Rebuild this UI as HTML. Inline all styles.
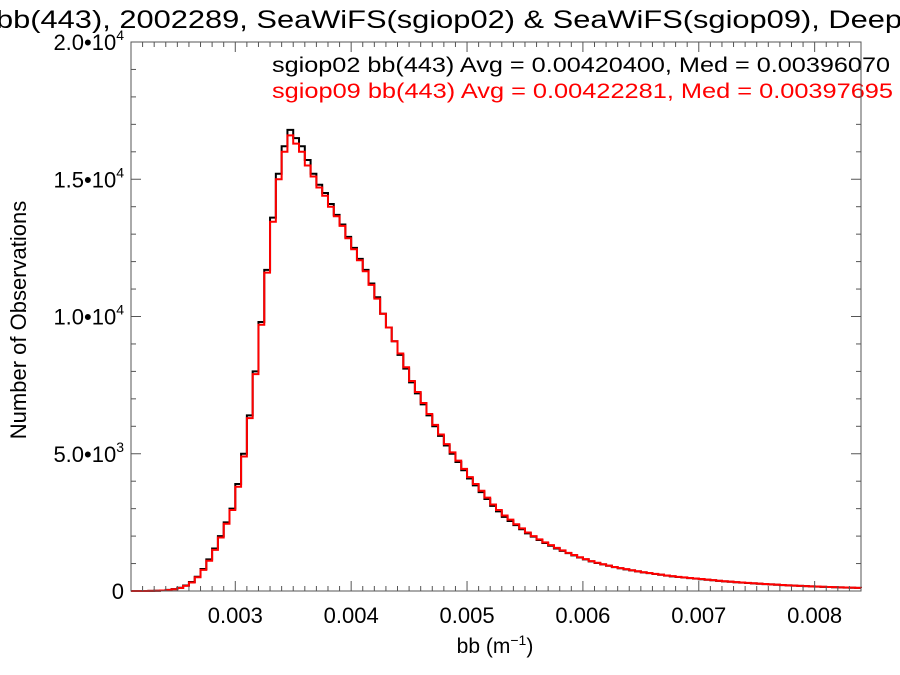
<!DOCTYPE html>
<html><head><meta charset="utf-8"><style>
html,body{margin:0;padding:0;background:#fff}
svg{display:block;font-family:"Liberation Sans",sans-serif}
</style></head><body>
<svg id="chart" width="900" height="675" viewBox="0 0 900 675" xmlns="http://www.w3.org/2000/svg">
<text x="-4" y="28" font-size="25" textLength="906" lengthAdjust="spacingAndGlyphs">bb(443), 2002289, SeaWiFS(sgiop02) &amp; SeaWiFS(sgiop09), Deep</text>
<text x="272" y="72" font-size="21" textLength="618" lengthAdjust="spacingAndGlyphs" fill="#000">sgiop02 bb(443) Avg = 0.00420400, Med = 0.00396070</text>
<text x="272" y="98" font-size="21" textLength="621" lengthAdjust="spacingAndGlyphs" fill="#ff0000">sgiop09 bb(443) Avg = 0.00422281, Med = 0.00397695</text>
<text transform="translate(26,320) rotate(-90)" font-size="22" text-anchor="middle">Number of Observations</text>
<text x="495" y="653" font-size="21" text-anchor="middle">bb (m<tspan font-size="14" dy="-8">−1</tspan><tspan dy="8">)</tspan></text>
<g id="plot"></g>
</svg>
<script>
const binStart = 0.0021;
const binWidth = 0.00005;
const series02 = [0,0,0,5,10,20,40,70,120,200,330,520,800,1150,1550,2000,2500,3000,3900,5000,6400,8000,9800,11700,13600,15200,16200,16800,16500,16200,15700,15200,14800,14500,14100,13700,13350,12900,12500,12100,11700,11200,10700,10100,9600,9100,8600,8100,7600,7200,6800,6400,6000,5650,5300,5000,4700,4400,4100,3850,3600,3350,3100,2900,2700,2550,2400,2250,2100,1980,1860,1750,1650,1550,1460,1380,1300,1220,1150,1080,1020,970,920,870,830,790,750,715,680,650,620,590,560,535,510,490,470,450,430,410,390,370,350,335,320,305,290,278,265,252,240,228,216,205,195,185,176,168,160,152,145,138,131,125,119,114,108];
const series09 = [0,0,0,4,9,18,36,65,110,185,310,500,770,1100,1500,1950,2450,2950,3800,4900,6300,7900,9700,11600,13450,15000,16000,16600,16300,16000,15500,15100,14700,14400,14000,13650,13300,12850,12450,12050,11650,11150,10650,10100,9600,9100,8650,8150,7650,7250,6850,6450,6050,5700,5350,5050,4750,4450,4150,3900,3650,3400,3150,2950,2750,2600,2430,2280,2130,2000,1880,1770,1670,1570,1480,1390,1310,1230,1160,1090,1030,975,925,875,835,795,755,720,685,655,625,595,565,540,515,495,475,455,435,415,395,375,355,340,325,310,295,282,268,255,243,230,218,207,197,187,178,170,162,154,147,140,133,127,121,115,110];
const xTicks = [0.003,0.004,0.005,0.006,0.007,0.008];
const xTickLabels = ["0.003","0.004","0.005","0.006","0.007","0.008"];
const yTicks = [0,5000,10000,15000,20000];
const yTickMant = ["0","5.0","1.0","1.5","2.0"];
const yTickExp = ["","3","4","4","4"];

const L=131,R=861,T=42,B=591,xMin=0.0021,xMax=0.0084,yMax=20000;
const sx=v=>L+(v-xMin)/(xMax-xMin)*(R-L);
const sy=v=>B-v/yMax*(B-T);
const NS="http://www.w3.org/2000/svg";
const g=document.getElementById('plot');
function mk(t,a){const e=document.createElementNS(NS,t);for(const k in a)e.setAttribute(k,a[k]);g.appendChild(e);return e;}

function stepPath(vals){
  let d="";
  vals.forEach((v,i)=>{
    const x0=sx(Math.max(xMin,binStart+i*binWidth)),x1=sx(Math.min(xMax,binStart+(i+1)*binWidth)),y=sy(v);
    d+=(i===0?"M"+x0+","+y:"L"+x0+","+y)+"L"+x1+","+y;
  });
  return d;
}
const p1=mk('path',{d:stepPath(series02),fill:'none',stroke:'#000','stroke-width':2});


const p2=mk('path',{d:stepPath(series09),fill:'none',stroke:'#ff0000','stroke-width':2});



const frame=mk('rect',{x:L,y:T,width:R-L,height:B-T,fill:'none',stroke:'#555','stroke-width':1});



for(let v=0.0022;v<xMax-1e-9;v+=0.0001){
  const major=xTicks.some(t=>Math.abs(t-v)<1e-9);
  const len=major?10:5,x=sx(v);
  mk('line',{x1:x,x2:x,y1:B,y2:B-len,stroke:'#555'});
  mk('line',{x1:x,x2:x,y1:T,y2:T+len,stroke:'#555'});
}
xTicks.forEach((v,i)=>{
  const t=mk('text',{x:sx(v),y:623,'font-size':22,'text-anchor':'middle'});
  t.textContent=xTickLabels[i];
  
  
});
for(let v=1000;v<yMax;v+=1000){
  const major=v%5000===0;
  const len=major?10:5,y=sy(v);
  mk('line',{x1:L,x2:L+len,y1:y,y2:y,stroke:'#555'});
  mk('line',{x1:R,x2:R-len,y1:y,y2:y,stroke:'#555'});
}
yTicks.forEach((v,i)=>{
  const t=mk('text',{x:124,y:sy(v)+8,'font-size':22,'text-anchor':'end'});
  if(yTickExp[i]){
    t.innerHTML=yTickMant[i]+"•10<tspan font-size=\"14\" dy=\"-10\">"+yTickExp[i]+"</tspan>";
  } else t.textContent=yTickMant[i];
  
  
});
</script>
</body></html>
